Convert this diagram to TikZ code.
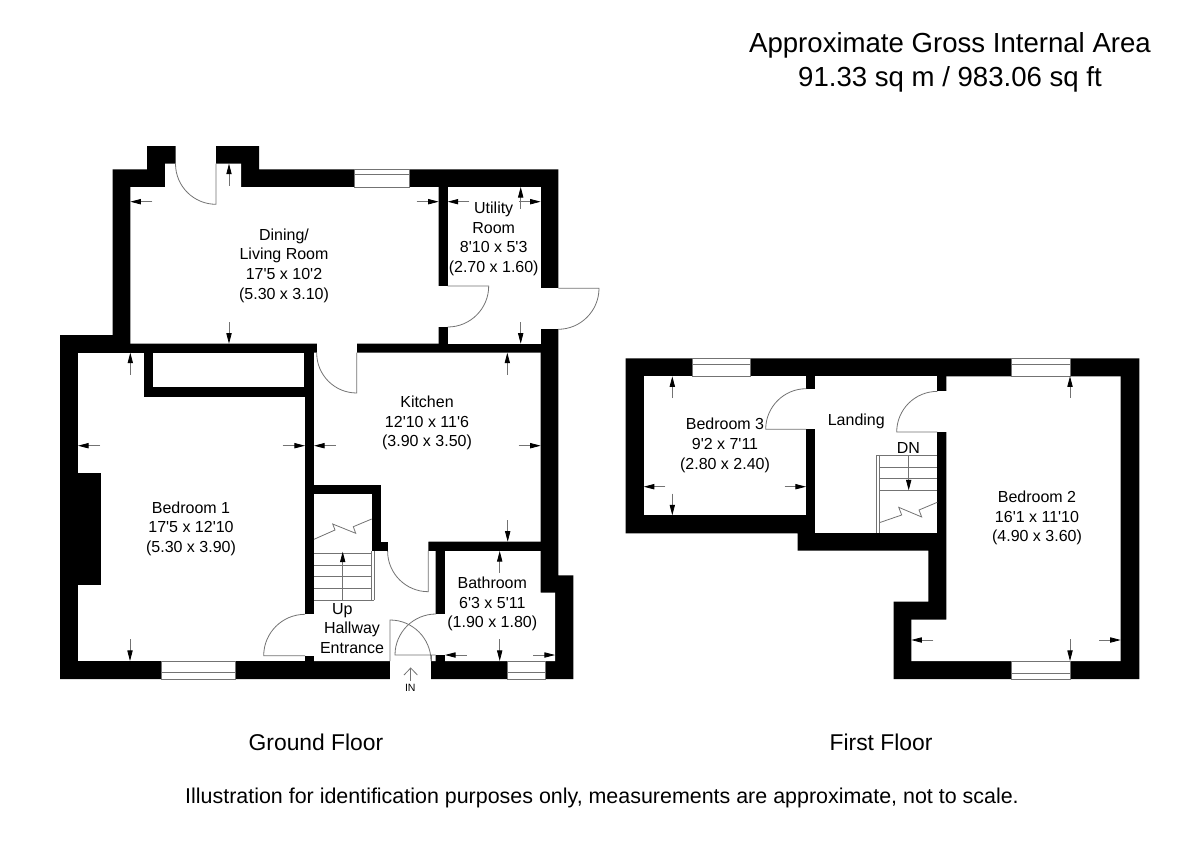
\documentclass[tikz,border=0pt]{standalone}
\usepackage{fontspec}
\setmainfont[Ligatures=TeXOff]{Liberation Sans}
\usetikzlibrary{arrows.meta}
\tikzset{
  wall/.style={fill=black},
  room/.style={fill=white},
  thinline/.style={draw=black!55,line width=0.45pt},
  glass/.style={fill=white,draw=black!55,line width=0.45pt},
  dim/.style={draw=black!55,line width=0.45pt,-{Triangle[length=6pt,width=3pt,black]}},
  roomlabel/.style={align=center,inner sep=0pt,font=\fontsize{9.1}{11.2}\selectfont},
  floorlabel/.style={inner sep=0pt,font=\fontsize{13}{15}\selectfont},
}
\begin{document}
\begin{tikzpicture}[x=0.02cm,y=-0.02cm]
\useasboundingbox (0,0) rectangle (1200,848);
% ground floor walls
\fill [wall](112.7,169.3) -- (147,169.3) -- (147,146) -- (175.7,146) -- (175.7,163.7) -- (216,163.7) -- (216,146) -- (259,146) -- (259,169.3) -- (558.3,169.3) -- (558.3,575.3) -- (573.3,575.3) -- (573.3,679) -- (60,679) -- (60,335) -- (112.7,335) -- cycle;
\fill [room](130.3,187) -- (165,187) -- (165,163.7) -- (241,163.7) -- (241,187) -- (438.7,187) -- (438.7,343.7) -- (130.3,343.7) -- cycle;
\fill [room](175.7,160) rectangle (216,170);
\fill [room](447.7,187) rectangle (540.7,343.7);
\fill [room](78,352.7) rectangle (305,661);
\fill [room](314,352.7) -- (540.7,352.7) -- (540.7,541.7) -- (428.3,541.7) -- (428.3,551) -- (435.7,551) -- (435.7,661) -- (314,661) -- cycle;
\fill [room](445,551) -- (540.7,551) -- (540.7,592.7) -- (555,592.7) -- (555,661) -- (445,661) -- cycle;
% chimney, cupboard, stair box
\fill [wall](78,473.3) rectangle (101.3,585);
\fill [wall](143.5,352.7) rectangle (305,397);
\fill [room](152.7,352.7) rectangle (304.3,387.3);
\fill [wall](314,485) rectangle (380.7,494);
\fill [wall](371.7,485) rectangle (380.7,551);
\fill [wall](371.7,541.7) rectangle (387.7,551);
% door openings
\fill [room](437.7,286) rectangle (448.7,326.7);
\fill [room](539.7,288.3) rectangle (559.3,329);
\fill [room](316.7,342.7) rectangle (357,353.7);
\fill [room](304,614.3) rectangle (315,655.7);
\fill [room](434.7,614) rectangle (446,655);
\fill [room](390,660) rectangle (430.7,680);
% windows
\draw [glass](354.3,169.3) rectangle (409,187);
\draw [thinline](354.3,174.3) -- (409,174.3);
\draw [glass](161.3,661) rectangle (235,679);
\draw [thinline](161.3,672.3) -- (235,672.3);
\draw [glass](507.3,661) rectangle (545.7,679);
\draw [thinline](507.3,672.3) -- (545.7,672.3);
% doors
\draw [thinline](216,163.7) -- (216,204.3) arc (90:180:40.5);
\draw [thinline](447.7,286) -- (488.7,286) arc (0:90:41);
\draw [thinline](558.3,288.3) -- (599,288.3) arc (0:90:41);
\draw [thinline](356.7,352.7) -- (356.7,393) arc (90:180:40);
\draw [thinline](428.3,551) -- (428.3,591.7) arc (90:180:40.7);
\draw [thinline](305,655.7) -- (263.7,655.7) arc (180:270:41.4);
\draw [thinline](390,661) -- (390,620) arc (270:360:41);
\draw [thinline](435.7,655) -- (395,655) arc (180:270:41);
\draw [thinline](431,655) -- (431,661);
% stairs
\draw [thinline](314,553.3) -- (371.7,553.3);
\draw [thinline](314,565) -- (371.7,565);
\draw [thinline](314,576.7) -- (371.7,576.7);
\draw [thinline](314,588.3) -- (371.7,588.3);
\draw [thinline](314,600) -- (374.3,600);
\draw [thinline](371.7,551) -- (371.7,600);
\draw [thinline](374.3,551) -- (374.3,600);
\draw [thinline](314,539.3) -- (335,530) -- (332.7,524) -- (355.7,533.3) -- (353.3,526.7) -- (371.7,519);
\draw [dim](342.7,600) -- (342.7,551.7);
% ground floor measuring arrows
\draw [dim](152.3,201.7) -- (130.3,201.7);
\draw [dim](229,185.7) -- (229,163.7);
\draw [dim](416.7,201.7) -- (438.7,201.7);
\draw [dim](469.3,201.7) -- (447.7,201.7);
\draw [dim](519,201.7) -- (540.7,201.7);
\draw [dim](520.7,208.7) -- (520.7,187);
\draw [dim](229,322.3) -- (229,343.7);
\draw [dim](520.7,322.3) -- (520.7,343.7);
\draw [dim](130.3,374.7) -- (130.3,352.7);
\draw [dim](507.3,374.7) -- (507.3,352.7);
\draw [dim](100,445.7) -- (78,445.7);
\draw [dim](282.7,445.7) -- (305,445.7);
\draw [dim](335.7,445.7) -- (314,445.7);
\draw [dim](518.7,445.7) -- (540.7,445.7);
\draw [dim](130,639.3) -- (130,661);
\draw [dim](507.7,520) -- (507.7,541.7);
\draw [dim](499.7,572.7) -- (499.7,551);
\draw [dim](499.7,639.3) -- (499.7,661);
\draw [dim](466.7,655) -- (445,655);
\draw [dim](533.3,655) -- (555,655);
% way in
\draw [thinline](410.7,681) -- (410.7,668);
\draw [thinline](404,675) -- (410.7,668) -- (417.4,675);
% first floor walls
\fill [wall](625.7,358.3) -- (1139.3,358.3) -- (1139.3,679) -- (893.7,679) -- (893.7,601.7) -- (928.3,601.7) -- (928.3,550.7) -- (797.5,550.7) -- (797.5,533.3) -- (625.7,533.3) -- cycle;
\fill [room](643.7,376.3) rectangle (806,515.3);
\fill [room](815,376.3) rectangle (937.3,533.3);
\fill [room](946.3,376.3) -- (1120.7,376.3) -- (1120.7,661) -- (911.3,661) -- (911.3,619.7) -- (946.3,619.7) -- cycle;
\fill [room](805,388.7) rectangle (816,429.3);
\fill [room](936.3,391.3) rectangle (947.3,432);
\draw [glass](692,358.3) rectangle (750,376.3);
\draw [thinline](692,364.3) -- (750,364.3);
\draw [glass](1011.7,358.3) rectangle (1070,376.3);
\draw [thinline](1011.7,364.3) -- (1070,364.3);
\draw [glass](1011.7,661) rectangle (1070,679);
\draw [thinline](1011.7,673) -- (1070,673);
\draw [thinline](806,429.3) -- (765.7,429.3) arc (180:270:40.6);
\draw [thinline](937.3,432) -- (896.7,432) arc (180:270:40.6);
% first floor stairs
\draw [thinline](876,455.3) -- (937.3,455.3);
\draw [thinline](879.3,467) -- (937.3,467);
\draw [thinline](879.3,478.7) -- (937.3,478.7);
\draw [thinline](879.3,490.3) -- (937.3,490.3);
\draw [thinline](876,455.3) -- (876,533.3);
\draw [thinline](879.3,455.3) -- (879.3,533.3);
\draw [thinline](879.3,522.7) -- (901.7,515) -- (898.7,507.3) -- (921.7,517) -- (919,510) -- (937.3,502.3);
\draw [dim](908.7,455.3) -- (908.7,490.3);
% first floor measuring arrows
\draw [dim](672.3,398) -- (672.3,376.3);
\draw [dim](665.3,486.7) -- (643.7,486.7);
\draw [dim](784.7,486.7) -- (806,486.7);
\draw [dim](672.3,493.7) -- (672.3,515.3);
\draw [dim](1070,397.7) -- (1070,376.3);
\draw [dim](1070,639.3) -- (1070,661);
\draw [dim](933.3,640) -- (911.3,640);
\draw [dim](1099,640) -- (1120.7,640);
% labels
\node [roomlabel] (dining) at (284,265.5) {Dining/\\Living Room\\17'5 x 10'2\\(5.30 x 3.10)};
\node [roomlabel] (utility) at (493.7,239) {Utility\\Room\\8'10 x 5'3\\(2.70 x 1.60)};
\node [roomlabel] (kitchen) at (427,423) {Kitchen\\12'10 x 11'6\\(3.90 x 3.50)};
\node [roomlabel] (bedone) at (191,528.7) {Bedroom 1\\17'5 x 12'10\\(5.30 x 3.90)};
\node [roomlabel] (bathroom) at (492.3,604) {Bathroom\\6'3 x 5'11\\(1.90 x 1.80)};
\node [roomlabel] (up) at (342.3,611) {Up};
\node [roomlabel] (hallway) at (352,638) {Hallway\\Entrance};
\node [inner sep=0pt,font=\fontsize{6}{7}\selectfont] (way) at (410.3,688) {IN};
\node [roomlabel] (bedthree) at (725,445.5) {Bedroom 3\\9'2 x 7'11\\(2.80 x 2.40)};
\node [roomlabel] (landing) at (856.3,421) {Landing};
\node [roomlabel] (dn) at (908.3,447.7) {DN};
\node [roomlabel] (bedtwo) at (1037,518) {Bedroom 2\\16'1 x 11'10\\(4.90 x 3.60)};
\node [floorlabel] (ground) at (316,742) {Ground Floor};
\node [floorlabel] (first) at (881,742) {First Floor};
\node [inner sep=0pt,font=\fontsize{12.2}{14}\selectfont] (note) at (602,798) {Illustration for identification purposes only, measurements are approximate, not to scale.};
\node [align=center,inner sep=0pt,font=\fontsize{15.7}{19.4}\selectfont] (area) at (950,62) {Approximate Gross Internal Area\\91.33 sq m / 983.06 sq ft};
\end{tikzpicture}
\end{document}
